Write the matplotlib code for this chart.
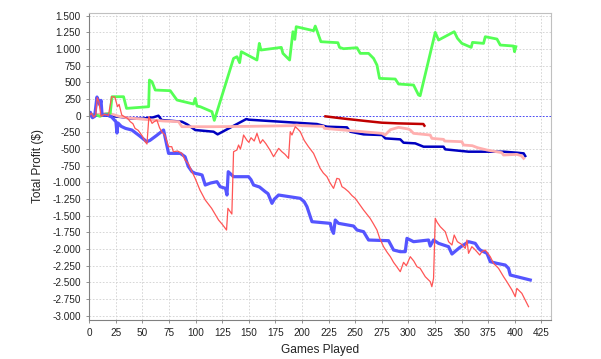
import matplotlib
matplotlib.use("Agg")
import matplotlib.pyplot as plt
from matplotlib.ticker import FuncFormatter

# ---- data (games played, total profit $) ----
red_x = [0, 2, 4, 6, 7.5, 9, 11, 14, 18, 21, 24, 26.5, 28, 30.5, 33.5, 36, 38.5, 41, 43, 46, 48, 50, 52.5, 54.2,
         56, 59, 61, 63.5, 66, 68, 71, 74.5, 77.5, 79, 83, 87, 90, 93, 96.5, 99.5, 104, 109, 115, 121.5, 125, 129,
         130.3, 134, 135.6, 138.7, 140.3, 142, 143.5, 145, 148, 150, 152, 155, 157.6, 160.7, 163, 166, 170, 173.2,
         178, 181, 184, 187.3, 188.9, 190.5, 193.6, 196, 198.3, 202, 206, 210.8, 214, 217, 220, 223.4, 226, 229.6,
         232.7, 235, 237.5, 240, 243.7, 247, 250, 254, 257.8, 261, 264, 267, 270.4, 273, 276.6, 280, 283, 286, 289,
         292.3, 295.4, 298, 301.7, 305, 308, 311, 315.8, 320.5, 322, 323.6, 325.2, 327, 329.9, 334.6, 337.7, 340.9,
         343, 346, 350, 353.4, 355, 356.5, 359.6, 362, 364.3, 367, 369, 372.2, 376.9, 380, 384.7, 389.4, 392.5,
         397.3, 400.4, 401.9, 406.6, 409.8, 412.9]
red_y = [0, 40, -20, 10, 270, 210, -10, 20, 5, 285, 280, 135, 170, 10, -20, -40, -90, -120, -190, -220, -265, -310, -390, -425,
         -15, -115, -90, -65, -180, -240, -290, -465, -465, -540, -530, -565, -665, -715, -840, -940, -1115, -1265, -1390, -1565, -1630, -1715,
         -1390, -1475, -540, -515, -440, -500, -415, -290, -365, -400, -330, -380, -265, -415, -360, -420, -520, -615,
         -490, -540, -580, -640, -240, -290, -165, -200, -240, -370, -465, -565, -680, -790, -860, -915, -1000, -1090,
         -940, -950, -1065, -1090, -1140, -1200, -1240, -1330, -1415, -1480, -1540, -1620, -1715, -1840, -1965, -2050, -2115, -2200, -2265,
         -2340, -2200, -2250, -2115, -2180, -2265, -2290, -2415, -2490, -2565, -2440, -1540, -1600, -1665, -1740, -1890, -1940,
         -1790, -1890, -1930, -1990, -1865, -2065, -1965, -2000, -2040, -2090, -2040, -2015, -2115, -2215, -2290, -2415, -2490,
         -2615, -2715, -2590, -2665, -2765, -2865]

blue_x = [0, 1, 3, 5, 7.2, 8.5, 10, 11, 12, 17, 21, 25, 26, 27, 30, 34, 40, 47, 54, 57, 63, 69.8, 74.5, 85.5, 90, 93,
          96.5, 99.6, 104, 106, 109, 114, 120, 123, 128, 129.4, 130.6, 135.6, 149.7, 152, 154.4, 160, 165.4, 168,
          171.7, 174, 177.9, 198.3, 202, 204.6, 209.3, 226.5, 228, 229.6, 231.2, 234.3, 248.4, 251.6, 257.8, 262.5,
          281.3, 286, 292.3, 297, 298.6, 304.8, 318.9, 320.5, 323.6, 328.3, 337.7, 340.9, 348, 356.5, 362.8, 365.9,
          367.5, 373.8, 376.9, 383.2, 391, 394.1, 395.7, 414.5]
blue_y = [0, 50, -30, -10, 280, 230, 160, 230, 10, 10, -20, -90, -260, -110, -160, -190, -215, -300, -390, -370, -300, -215, -565, -565, -615, -760,
          -840, -865, -880, -890, -1040, -1010, -990, -1065, -1090, -1190, -840, -915, -915, -960, -1040, -1070, -1140, -1170,
          -1315, -1250, -1190, -1240, -1290, -1365, -1590, -1615, -1715, -1765, -1565, -1615, -1655, -1715, -1740, -1865,
          -1875, -2015, -2040, -2040, -1840, -1890, -1865, -1955, -1865, -1915, -1965, -2075, -1980, -1890, -1915, -1990,
          -2015, -2065, -2190, -2215, -2240, -2290, -2390, -2465]

green_x = [0, 5, 10, 15, 19.7, 21.3, 32.2, 35, 55.8, 56.5, 58.9, 62, 76.1, 82.4, 98, 99.6, 101.2, 104.3, 115.3, 117.5,
           135.6, 138.8, 141.3, 142.9, 157.6, 159.8, 161.4, 180.5, 182, 188.3, 191.4, 193.2, 194.5, 210.8, 212.4, 214,
           217.7, 233.7, 235.2, 239, 251.6, 254.7, 262.5, 267.2, 270.4, 272.8, 287.6, 290.7, 304.8, 309.5, 311, 325.2,
           328.3, 343, 346.1, 350.2, 359, 360.2, 370.6, 372.2, 383.2, 386.3, 398.8, 399.7, 401]
green_y = [0, 20, -10, 25, 35, 285, 285, 110, 135, 535, 510, 385, 375, 235, 175, 260, 145, 135, 60, -70,
           860, 885, 795, 960, 835, 1085, 985, 1025, 935, 835, 1260, 1145, 1335, 1275, 1345, 1275,
           1110, 1095, 1025, 1005, 1020, 935, 935, 860, 760, 560, 550, 475, 460, 310, 300, 1250,
           1135, 1260, 1160, 1085, 1025, 1100, 1085, 1185, 1150, 1060, 1045, 960, 1035]

pink_x = [0, 8, 15, 22, 28, 35, 41.7, 58.9, 70, 84, 87, 116.8, 150, 190, 195, 200, 220, 221, 275, 278, 283, 290.7,
          300, 301.7, 304.8, 320.5, 322, 333, 334, 350.2, 351.8, 360, 365, 373.8, 387.8, 389.4, 401.9, 406, 408.3]
pink_y = [0, 20, 30, 20, -10, -30, -40, -65, -80, -90, -165, -165, -160, -150, -140, -150, -160, -190, -265, -290, -210, -175,
          -200, -215, -265, -290, -340, -355, -380, -390, -440, -450, -480, -515, -555, -590, -580, -600, -640]

darkred_x = [222, 240, 260, 275, 290, 314, 315]
darkred_y = [-10, -45, -80, -105, -115, -125, -150]

darkblue_x = [0, 10, 20, 30, 38.5, 50, 60, 65, 68, 87, 92, 99.6, 116.8, 120.6, 147.6, 150, 214, 223.4, 242.2, 245.3,
              257.8, 275.2, 278.2, 292.3, 295.4, 306.4, 314.2, 333, 334.6, 350.2, 356.5, 389.4, 401.9, 408.3, 409.8]
darkblue_y = [0, 10, -5, -20, -40, -45, -25, 0, -65, -90, -130, -215, -240, -280, -50, -60, -125, -165, -175, -240,
              -280, -290, -340, -355, -405, -415, -465, -465, -505, -530, -540, -540, -555, -565, -605]

x_ticks = list(range(0, 426, 25))
y_ticks = list(range(-3000, 1501, 250))

# ---- figure ----
plt.rcParams['font.family'] = ['Liberation Sans', 'DejaVu Sans']
fig = plt.figure(figsize=(6.01, 3.59), dpi=100)
ax = fig.add_axes([0.1486, 0.1086, 0.7682, 0.856])

ax.set_xlim(0, 434)
ax.set_ylim(-3065, 1545)
ax.set_xticks(x_ticks)
ax.set_yticks(y_ticks)

def fmt(v, pos):
    s = f"{abs(int(round(v))):,}".replace(",", ".")
    return ("-" + s) if v < 0 else s

ax.yaxis.set_major_formatter(FuncFormatter(fmt))
ax.xaxis.set_major_formatter(FuncFormatter(fmt))

ax.grid(True, color='#d0d0d0', linewidth=0.6, linestyle=(0, (2, 2)))
ax.set_axisbelow(True)
ax.axhline(0, color='#3030ff', linewidth=0.6, linestyle=(0, (2, 2)), zorder=1.5)

ax.plot(darkblue_x, darkblue_y, color='#0000c0', linewidth=1.8, zorder=2)
ax.plot(darkred_x, darkred_y, color='#c00000', linewidth=1.8, zorder=2.1)
ax.plot(pink_x, pink_y, color='#ffafaf', linewidth=2.0, zorder=2.2)
ax.plot(green_x, green_y, color='#55ff55', linewidth=2.0, zorder=2.3)
ax.plot(blue_x, blue_y, color='#5555ff', linewidth=2.3, zorder=2.4)
ax.plot(red_x, red_y, color='#ff5555', linewidth=0.9, zorder=2.5)

for side in ['top', 'right']:
    ax.spines[side].set_color('#c0c0c0')
    ax.spines[side].set_linewidth(0.8)
for side in ['left', 'bottom']:
    ax.spines[side].set_color('#808080')
    ax.spines[side].set_linewidth(0.8)

ax.tick_params(axis='both', direction='out', length=2, width=0.6, color='#808080',
               labelsize=7.2, labelcolor='#222222', pad=4)

ax.set_xlabel('Games Played', fontsize=8.6, color='#222222', labelpad=4)
ax.set_ylabel('Total Profit ($)', fontsize=8.6, color='#222222', labelpad=6)

fig.savefig('out.png', dpi=100)
